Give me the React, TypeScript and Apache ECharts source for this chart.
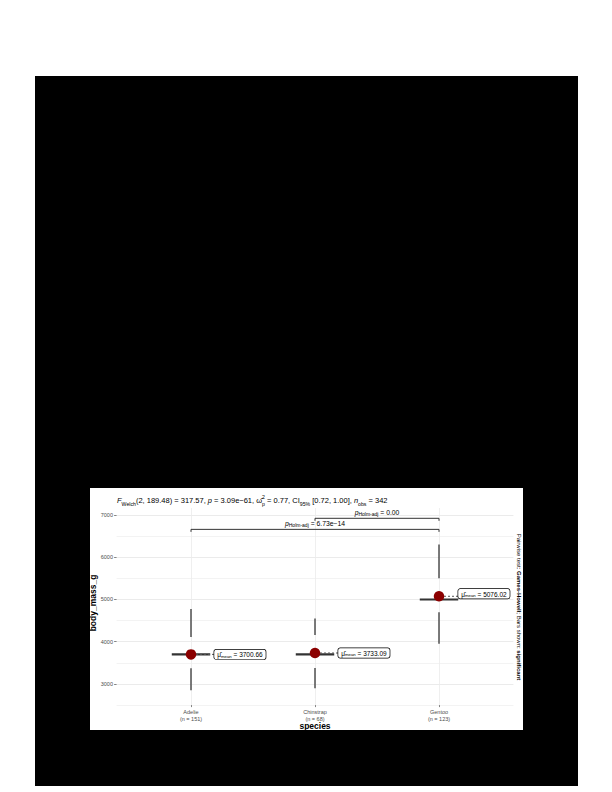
import React, { useEffect, useRef } from 'react';
import * as echarts from 'echarts';

const categories = ['Adelie', 'Chinstrap', 'Gentoo'];
const groupSizes = [151, 68, 123];
const whiskerLow = [2850, 2900, 3950];
const boxLow = [3370, 3380, 4700];
const medians = [3700, 3700, 5000];
const boxHigh = [4110, 4160, 5500];
const whiskerHigh = [4775, 4550, 6300];
const means = [3700.66, 3733.09, 5076.02];
const yTickValues = [3000, 4000, 5000, 6000, 7000];
const bracketFrom = [1, 2];
const bracketTo = [3, 3];
const bracketHeights = [6660, 6922];
const bracketPValues = ['6.73e\u221214', '0.00'];

const FONT = '"Liberation Sans", Arial, sans-serif';

export default function App() {
  const ref = useRef<HTMLDivElement>(null);
  useEffect(() => {
    if (!ref.current) return;
    const chart = echarts.init(ref.current, undefined, { renderer: 'svg' });
    const xPos = categories.map((_, i) => i + 1);

    const option: any = {
      animation: false,
      textStyle: { fontFamily: FONT },
      grid: { left: 116.6, right: 612 - 513.4, top: 508, bottom: 792 - 705.1, containLabel: false },
      xAxis: {
        type: 'value',
        min: 0.4,
        max: 3.6,
        axisLine: { show: false },
        axisTick: { show: true, customValues: xPos, length: 2, lineStyle: { color: '#333', width: 0.6 } },
        axisLabel: {
          customValues: xPos,
          margin: 3,
          fontSize: 5.5,
          lineHeight: 7.5,
          color: '#4d4d4d',
          fontFamily: FONT,
          formatter: (v: number) => {
            const i = Math.round(v) - 1;
            return categories[i] + '\n(n = ' + groupSizes[i] + ')';
          },
        },
        splitLine: { show: true, lineStyle: { color: '#ebebeb', width: 0.8 } },
      },
      yAxis: [
        {
          type: 'value',
          min: 2500,
          max: 7166,
          interval: 500,
          axisLine: { show: false },
          axisTick: { show: false },
          axisLabel: {
            margin: 3.6,
            fontSize: 5.5,
            color: '#4d4d4d',
            fontFamily: FONT,
            formatter: (v: number) => (v % 1000 === 0 ? String(v) : ''),
          },
          splitLine: { show: true, showMaxLine: false, lineStyle: { color: ['#f0f0f0', '#e6e6e6'], width: 0.8 } },
        },
        {
          type: 'value',
          position: 'left',
          min: 2500,
          max: 7166,
          axisLine: { show: false },
          axisLabel: { show: false },
          splitLine: { show: false },
          axisTick: { show: true, customValues: yTickValues, length: 2.5, lineStyle: { color: '#333', width: 0.6 } },
        },
      ],
      series: [
        {
          type: 'custom',
          name: 'boxes',
          data: categories.map((_, i) => [i + 1, whiskerLow[i], boxLow[i], medians[i], boxHigh[i], whiskerHigh[i]]),
          renderItem: (params: any, api: any) => {
            const x = api.value(0);
            const wl = api.coord([x, api.value(1)]);
            const bl = api.coord([x, api.value(2)]);
            const md = api.coord([x, api.value(3)]);
            const bh = api.coord([x, api.value(4)]);
            const wh = api.coord([x, api.value(5)]);
            const half = api.size([0.155, 0])[0];
            const ws = { stroke: '#444', lineWidth: 1.4 };
            return {
              type: 'group',
              children: [
                { type: 'line', shape: { x1: wl[0], y1: wl[1], x2: bl[0], y2: bl[1] }, style: ws },
                { type: 'line', shape: { x1: bh[0], y1: bh[1], x2: wh[0], y2: wh[1] }, style: ws },
                { type: 'line', shape: { x1: md[0] - half, y1: md[1], x2: md[0] + half, y2: md[1] }, style: { stroke: '#333', lineWidth: 2.2 } },
              ],
            };
          },
        },
        {
          type: 'custom',
          name: 'connectors',
          data: categories.map((_, i) => [i + 1, means[i]]),
          renderItem: (params: any, api: any) => {
            const p = api.coord([api.value(0), api.value(1)]);
            const gap = params.dataIndex === 2 ? 19 : 23;
            return {
              type: 'line',
              shape: { x1: p[0] + 5, y1: p[1], x2: p[0] + gap, y2: p[1] },
              style: { stroke: '#555', lineWidth: 1, lineDash: [2, 2] },
            };
          },
        },
        {
          type: 'custom',
          name: 'brackets',
          data: bracketFrom.map((f, i) => [f, bracketTo[i], bracketHeights[i]]),
          renderItem: (params: any, api: any) => {
            const a = api.coord([api.value(0), api.value(2)]);
            const b = api.coord([api.value(1), api.value(2)]);
            const pv = bracketPValues[params.dataIndex];
            return {
              type: 'group',
              children: [
                {
                  type: 'polyline',
                  shape: { points: [[a[0], a[1] + 2.5], [a[0], a[1]], [b[0], b[1]], [b[0], b[1] + 2.5]] },
                  style: { stroke: '#333', lineWidth: 1, fill: 'none' },
                },
                {
                  type: 'text',
                  x: (a[0] + b[0]) / 2,
                  y: a[1] - 5.5,
                  style: {
                    text: '{p|p}{s|Holm-adj}{n| = ' + pv + '}',
                    align: 'center',
                    verticalAlign: 'middle',
                    fill: '#000',
                    rich: {
                      p: { fontSize: 6.8, fontStyle: 'italic', fontFamily: FONT, fill: '#000' },
                      s: { fontSize: 5, fontFamily: FONT, verticalAlign: 'bottom', fill: '#000' },
                      n: { fontSize: 6.8, fontFamily: FONT, fill: '#000' },
                    },
                  },
                },
              ],
            };
          },
        },
        {
          type: 'scatter',
          name: 'means',
          symbol: 'circle',
          symbolSize: 10.5,
          itemStyle: { color: '#8b0000', opacity: 1 },
          data: means.map((m, i) => ({
            value: [i + 1, m],
            label: {
              show: true,
              position: 'right',
              distance: i === 2 ? 14 : 18,
              offset: i === 2 ? [0, -2.5] : [0, 0],
              formatter: '{h|\u03bc\u0302}{s|mean}{t| = ' + m.toFixed(2) + '}',
              backgroundColor: '#fff',
              borderColor: '#000',
              borderWidth: 0.7,
              borderRadius: 2,
              padding: [1.5, 3, 1, 3],
              rich: {
                h: { fontSize: 6.5, fontFamily: FONT, color: '#000' },
                s: { fontSize: 4.3, fontFamily: FONT, color: '#000', verticalAlign: 'bottom' },
                t: { fontSize: 6.5, fontFamily: FONT, color: '#000' },
              },
            },
          })),
          z: 5,
        },
      ],
      graphic: [
        {
          type: 'text',
          left: 117,
          top: 494,
          style: {
            text:
              '{i|F}{s|Welch}{n|(2, 189.48) = 317.57, }{i|p}{n| = 3.09e\u221261, }{n|\u03c9\u0302}{u|2}{s|p}{n| = 0.77, CI}{s|95%}{n| [0.72, 1.00], }{i|n}{s|obs}{n| = 342}',
            fill: '#000',
            rich: {
              i: { fontSize: 7.5, fontStyle: 'italic', fontFamily: FONT, fill: '#000', lineHeight: 12 },
              n: { fontSize: 7.5, fontFamily: FONT, fill: '#000', lineHeight: 12 },
              s: { fontSize: 5.2, fontFamily: FONT, fill: '#000', verticalAlign: 'bottom', lineHeight: 12 },
              u: { fontSize: 5.2, fontFamily: FONT, fill: '#000', verticalAlign: 'top', width: 0, lineHeight: 12 },
            },
          },
        },
        {
          type: 'text',
          x: 519,
          y: 607,
          rotation: -Math.PI / 2,
          style: {
            text: '{n|Pairwise test: }{b|Games-Howell}{n|; Bars shown: }{b|significant}',
            align: 'center',
            verticalAlign: 'middle',
            fill: '#000',
            rich: {
              n: { fontSize: 6, fontFamily: FONT, fill: '#000' },
              b: { fontSize: 6, fontWeight: 'bold', fontFamily: FONT, fill: '#000' },
            },
          },
        },
        {
          type: 'text',
          x: 93,
          y: 603,
          rotation: Math.PI / 2,
          style: {
            text: 'body_mass_g',
            align: 'center',
            verticalAlign: 'middle',
            fontSize: 8.5,
            fontWeight: 'bold',
            fontFamily: FONT,
            fill: '#000',
          },
        },
        {
          type: 'text',
          x: 315,
          y: 726,
          style: {
            text: 'species',
            align: 'center',
            verticalAlign: 'middle',
            fontSize: 8.5,
            fontWeight: 'bold',
            fontFamily: FONT,
            fill: '#000',
          },
        },
      ],
    };
    chart.setOption(option);
    return () => chart.dispose();
  }, []);

  return (
    <div style={{ position: 'fixed', left: 0, top: 0, width: 612, height: 792, background: '#fff' }}>
      <div style={{ position: 'absolute', left: 35, top: 76, width: 543, height: 710, background: '#000' }} />
      <div style={{ position: 'absolute', left: 90, top: 488, width: 433, height: 242, background: '#fff' }} />
      <div ref={ref} style={{ position: 'absolute', left: 0, top: 0, width: 612, height: 792 }} />
    </div>
  );
}
